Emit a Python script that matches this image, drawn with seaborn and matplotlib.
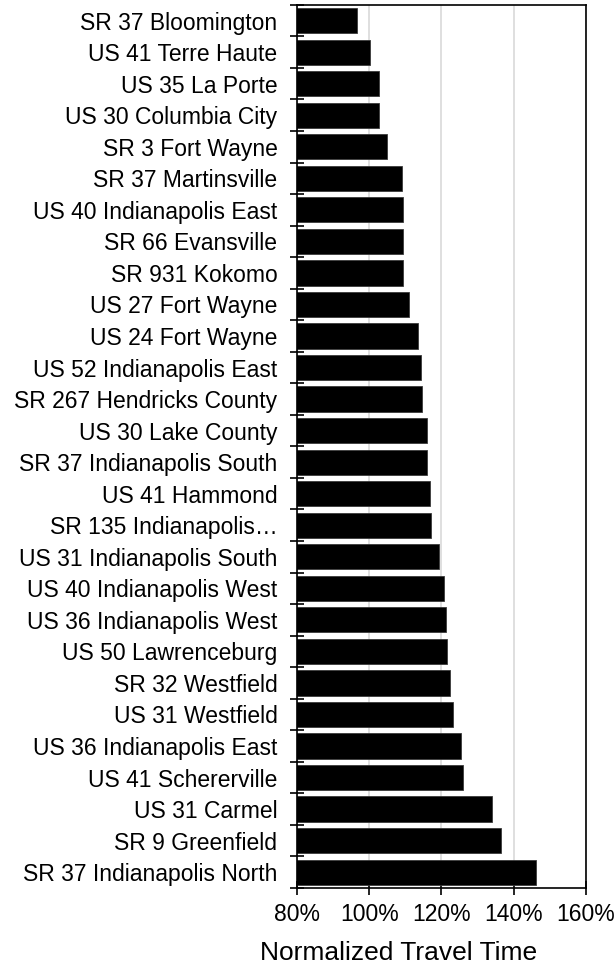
import matplotlib
matplotlib.use('Agg')
import matplotlib.pyplot as plt
import seaborn as sns
import pandas as pd
import numpy as np

# Corridor names, top to bottom as in the chart
corridors = ['SR 37 Bloomington', 'US 41 Terre Haute', 'US 35 La Porte', 'US 30 Columbia City',
             'SR 3 Fort Wayne', 'SR 37 Martinsville', 'US 40 Indianapolis East', 'SR 66 Evansville',
             'SR 931 Kokomo', 'US 27 Fort Wayne', 'US 24 Fort Wayne', 'US 52 Indianapolis East',
             'SR 267 Hendricks County', 'US 30 Lake County', 'SR 37 Indianapolis South',
             'US 41 Hammond', 'SR 135 Indianapolis\u2026', 'US 31 Indianapolis South',
             'US 40 Indianapolis West', 'US 36 Indianapolis West', 'US 50 Lawrenceburg',
             'SR 32 Westfield', 'US 31 Westfield', 'US 36 Indianapolis East', 'US 41 Schererville',
             'US 31 Carmel', 'SR 9 Greenfield', 'SR 37 Indianapolis North']

# Normalized travel time (fraction of free-flow)
travel_time = [0.967, 1.002, 1.028, 1.028, 1.050, 1.092, 1.093, 1.093, 1.093, 1.109,
               1.134, 1.143, 1.146, 1.159, 1.159, 1.168, 1.172, 1.193, 1.207, 1.212,
               1.216, 1.223, 1.232, 1.254, 1.261, 1.339, 1.366, 1.462]

x_ticks = [0.8, 1.0, 1.2, 1.4, 1.6]
x_tick_labels = ['80%', '100%', '120%', '140%', '160%']

df = pd.DataFrame({'corridor': corridors, 'time': travel_time})

sns.set_style('white')
plt.rcParams['font.family'] = ['Liberation Sans', 'DejaVu Sans']
plt.rcParams['text.color'] = 'black'
plt.rcParams['xtick.color'] = 'black'
plt.rcParams['ytick.color'] = 'black'
plt.rcParams['axes.labelcolor'] = 'black'

fig = plt.figure(figsize=(6.16, 9.63), dpi=100)
ax = fig.add_axes([0.482, 0.078, 0.469, 0.917])

sns.barplot(ax=ax, data=df, x='time', y='corridor', orient='h', color='black',
            width=0.8, edgecolor='#3a3a3a', linewidth=0.6, saturation=1)

ax.set_xlim(0.8, 1.6)
ax.set_ylim(len(corridors) - 0.5, -0.5)
ax.set_xticks(x_ticks)
ax.set_xticklabels(x_tick_labels, fontsize=16.5)
ax.set_yticks(range(len(corridors)))
ax.set_yticklabels(corridors, fontsize=16.5)
ax.set_yticks(np.arange(-0.5, len(corridors), 1), minor=True)
ax.tick_params(axis='y', which='major', left=True, length=0, pad=14)
ax.tick_params(axis='y', which='minor', left=True, direction='inout', length=10, width=1.2, color='black')
ax.tick_params(axis='x', which='major', bottom=True, direction='inout', length=10, width=1.2,
               color='black', pad=6)

ax.xaxis.grid(True, color='#d9d9d9', linewidth=1.2)
ax.set_axisbelow(True)
for s in ax.spines.values():
    s.set_visible(True)
    s.set_color('black')
    s.set_linewidth(1.2)

ax.set_ylabel('')
ax.set_xlabel('Normalized Travel Time', fontsize=19)
ax.xaxis.set_label_coords(0.353, -0.06)

plt.savefig('out.png', dpi=100)
